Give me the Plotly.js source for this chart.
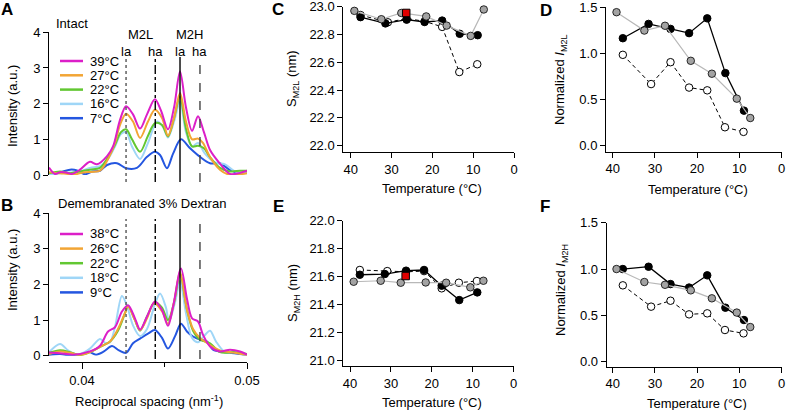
<!DOCTYPE html>
<html><head><meta charset="utf-8">
<script src="https://cdn.plot.ly/plotly-3.0.1.min.js"></script>
<style>html,body{margin:0;padding:0;background:#fff}#chart{width:787px;height:410px}</style>
</head><body><div id="chart"></div>
<script>
// ================= DATA =================
// Panels A/B: legend labels
const intactLabels  = ['39°C','27°C','22°C','16°C','7°C'];
const dextranLabels = ['38°C','26°C','22°C','18°C','9°C'];

// Panel A (Intact) spectra: reciprocal spacing (nm^-1) and intensity (a.u.)
const intact39_x = [0.03800,0.03836,0.03867,0.03903,0.03939,0.03988,0.04048,0.04091,0.04152,0.04188,0.04230,0.04267,0.04309,0.04352,0.04394,0.04442,0.04479,0.04521,0.04558,0.04594,0.04630,0.04667,0.04703,0.04739,0.04776,0.04836,0.04897,0.04958,0.05000];
const intact39_y = [0.21,0.03,0.08,0.07,0.03,0.15,0.37,0.30,0.53,0.80,1.54,1.93,1.70,1.30,1.70,2.12,1.80,1.28,1.90,2.90,1.90,1.24,1.65,1.20,0.70,0.32,0.03,0.06,0.12];
const intact27_x = [0.03800,0.03867,0.03958,0.04018,0.04109,0.04158,0.04200,0.04230,0.04267,0.04309,0.04352,0.04400,0.04442,0.04485,0.04521,0.04558,0.04594,0.04630,0.04667,0.04703,0.04733,0.04776,0.04836,0.04885,0.04958,0.05000];
const intact27_y = [0.08,0.05,0.02,0.08,0.12,0.45,0.90,1.40,1.72,1.50,1.04,1.50,1.83,1.60,1.10,1.60,2.30,1.50,1.00,1.02,0.90,0.50,0.15,0.02,0.02,0.05];
const intact22_x = [0.03800,0.03867,0.03927,0.03988,0.04048,0.04109,0.04158,0.04200,0.04236,0.04267,0.04303,0.04352,0.04400,0.04442,0.04485,0.04521,0.04558,0.04594,0.04630,0.04667,0.04703,0.04739,0.04776,0.04836,0.04897,0.04958,0.05000];
const intact22_y = [0.05,0.10,0.05,0.10,0.15,0.20,0.50,0.85,1.20,1.28,1.00,0.65,1.10,1.45,1.40,1.08,1.60,2.20,1.30,0.80,0.82,0.75,0.50,0.20,0.10,0.12,0.12];
const intact16_x = [0.03800,0.03867,0.03988,0.04048,0.04109,0.04158,0.04200,0.04236,0.04267,0.04303,0.04352,0.04400,0.04455,0.04491,0.04521,0.04558,0.04594,0.04630,0.04667,0.04703,0.04745,0.04806,0.04867,0.04927,0.05000];
const intact16_y = [0.00,0.05,0.10,0.20,0.25,0.45,0.80,1.15,1.20,0.80,0.45,0.90,1.50,1.35,1.05,1.50,2.05,1.20,0.80,0.90,0.60,0.35,0.30,0.10,0.05];
const intact7_x  = [0.03800,0.03867,0.03927,0.03970,0.04018,0.04061,0.04109,0.04152,0.04212,0.04267,0.04333,0.04394,0.04442,0.04473,0.04515,0.04552,0.04600,0.04655,0.04715,0.04776,0.04836,0.04897,0.04958,0.05000];
const intact7_y  = [0.00,0.07,0.15,0.13,0.02,0.10,0.12,0.28,0.33,0.19,0.20,0.51,0.65,0.56,0.19,0.60,1.00,0.75,0.51,0.33,0.33,0.14,0.05,0.07];

// Panel B (Demembranated 3% Dextran) spectra
const dex38_x = [0.03800,0.03867,0.03945,0.04048,0.04109,0.04158,0.04200,0.04242,0.04279,0.04321,0.04352,0.04394,0.04442,0.04485,0.04521,0.04552,0.04600,0.04636,0.04667,0.04703,0.04733,0.04776,0.04836,0.04897,0.04958,0.05000];
const dex38_y = [0.09,0.07,0.03,0.12,0.28,0.68,0.80,1.24,1.42,1.05,0.73,1.10,1.52,1.28,0.84,1.38,2.45,1.60,1.05,0.96,0.59,0.26,0.12,0.17,0.12,0.03];
const dex26_x = [0.03800,0.03867,0.03927,0.03988,0.04048,0.04109,0.04170,0.04218,0.04261,0.04279,0.04321,0.04352,0.04394,0.04436,0.04485,0.04521,0.04558,0.04594,0.04636,0.04673,0.04715,0.04776,0.04836,0.04927,0.05000];
const dex26_y = [0.05,0.12,0.08,0.02,0.10,0.25,0.40,0.75,1.20,1.38,1.00,0.72,1.05,1.48,1.25,0.90,1.50,2.35,1.30,0.75,0.50,0.30,0.15,0.08,0.02];
const dex22_x = [0.03800,0.03867,0.03927,0.03988,0.04048,0.04109,0.04170,0.04218,0.04261,0.04279,0.04321,0.04352,0.04394,0.04442,0.04485,0.04521,0.04558,0.04594,0.04636,0.04673,0.04715,0.04776,0.04836,0.04927,0.05000];
const dex22_y = [0.08,0.15,0.10,0.02,0.10,0.25,0.40,0.70,1.20,1.40,1.00,0.70,1.10,1.50,1.35,1.00,1.50,2.30,1.30,0.70,0.45,0.35,0.10,0.10,0.05];
const dex18_x = [0.03800,0.03867,0.03915,0.03958,0.03988,0.04048,0.04109,0.04145,0.04170,0.04200,0.04242,0.04273,0.04309,0.04352,0.04394,0.04442,0.04473,0.04509,0.04527,0.04564,0.04594,0.04630,0.04667,0.04703,0.04739,0.04776,0.04812,0.04867,0.04927,0.05000];
const dex18_y = [0.10,0.33,0.15,0.05,0.05,0.20,0.47,0.35,0.38,0.80,1.68,1.40,0.85,0.55,0.75,1.45,1.75,1.35,0.95,1.50,2.10,1.20,0.50,0.38,0.55,0.70,0.40,0.10,0.10,0.02];
const dex9_x  = [0.03800,0.03867,0.03927,0.03988,0.04036,0.04085,0.04133,0.04182,0.04224,0.04267,0.04309,0.04352,0.04400,0.04442,0.04485,0.04521,0.04564,0.04600,0.04636,0.04673,0.04715,0.04758,0.04794,0.04867,0.04958,0.05000];
const dex9_y  = [0.02,0.05,0.00,0.02,0.12,0.03,0.12,0.27,0.15,0.08,0.35,0.48,0.62,0.72,0.50,0.20,0.55,0.90,0.68,0.54,0.45,0.40,0.17,0.10,0.05,0.02];

// Reflection positions (nm^-1) marked by vertical lines
const reflX      = [0.04267, 0.04444, 0.04594, 0.04715];
const reflLabels = ['la', 'ha', 'la', 'ha'];
const reflGroups = ['M2L', 'M2H'];

// Panels C-F: temperature (°C)
const tempOpen  = [37.6, 30.9, 26.3, 21.9, 17.6, 13.4, 9.0];
const tempBlack = [37.6, 31.5, 26.3, 21.9, 17.6, 13.3, 8.9];
const tempGray  = [39.1, 32.5, 27.6, 21.5, 16.5, 10.6, 7.4];
const tempRed   = [26.4];

// Panel C: S_M2L (nm)
const sM2L_open  = [22.94, 22.888, 22.915, 22.895, 22.855, 22.53, 22.586];
const sM2L_black = [22.925, 22.88, 22.907, 22.89, 22.90, 22.805, 22.795];
const sM2L_gray  = [22.97, 22.91, 22.955, 22.93, 22.864, 22.79, 22.98];
const sM2L_red   = [22.955];

// Panel D: normalized I_M2L
const iM2L_open  = [0.985, 0.668, 0.905, 0.63, 0.60, 0.20, 0.15];
const iM2L_black = [1.165, 1.32, 1.266, 1.22, 1.38, 0.787, 0.38];
const iM2L_gray  = [1.447, 1.248, 1.30, 0.92, 0.78, 0.51, 0.30];

// Panel E: S_M2H (nm)
const sM2H_open  = [21.648, 21.64, 21.635, 21.64, 21.517, 21.557, 21.569];
const sM2H_black = [21.614, 21.619, 21.643, 21.648, 21.536, 21.433, 21.488];
const sM2H_gray  = [21.564, 21.571, 21.557, 21.559, 21.557, 21.524, 21.571];
const sM2H_red   = [21.605];

// Panel F: normalized I_M2H
const iM2H_open  = [0.824, 0.594, 0.658, 0.511, 0.522, 0.342, 0.306];
const iM2H_black = [1.0, 1.025, 0.838, 0.80, 0.932, 0.583, 0.45];
const iM2H_gray  = [1.0, 0.86, 0.83, 0.77, 0.684, 0.53, 0.374];

// Tick values
const tempTicks = [40, 30, 20, 10, 0];
const intensityTicks = [0, 1, 2, 3, 4];
const spacingTicks = [0.04, 0.05];
const sM2LTicks = [22.0, 22.2, 22.4, 22.6, 22.8, 23.0];
const sM2HTicks = [21.0, 21.2, 21.4, 21.6, 21.8, 22.0];
const normTicks = [0.0, 0.5, 1.0, 1.5];

// ================= STYLE / LAYOUT =================
const W = 787, H = 410;
const FONT = 'Liberation Sans, Arial, Helvetica, sans-serif';
const px = v => v / W;
const py = v => 1 - v / H;
const curveColors = ['#dc1fc8', '#f2a534', '#62c732', '#9fd6f7', '#2456e0'];
const reflDash  = ['dot', 'dashdot', 'solid', 'dash'];
const reflColor = ['#555', '#000', '#000', '#444'];

const intactX = [intact39_x, intact27_x, intact22_x, intact16_x, intact7_x];
const intactY = [intact39_y, intact27_y, intact22_y, intact16_y, intact7_y];
const dexX = [dex38_x, dex26_x, dex22_x, dex18_x, dex9_x];
const dexY = [dex38_y, dex26_y, dex22_y, dex18_y, dex9_y];

const traces = [];
for (let i = intactX.length - 1; i >= 0; i--) {
  traces.push({x: intactX[i], y: intactY[i], xaxis: 'x', yaxis: 'y', type: 'scatter', mode: 'lines',
    name: intactLabels[i], line: {color: curveColors[i], width: 2, shape: 'spline', smoothing: 0.9}, showlegend: false});
}
for (let i = dexX.length - 1; i >= 0; i--) {
  traces.push({x: dexX[i], y: dexY[i], xaxis: 'x2', yaxis: 'y2', type: 'scatter', mode: 'lines',
    name: dextranLabels[i], line: {color: curveColors[i], width: 2, shape: 'spline', smoothing: 0.9}, showlegend: false});
}

function addSeries(xa, ya, open, black, gray, red) {
  const msize = 7.5;
  traces.push({x: tempOpen, y: open, xaxis: xa, yaxis: ya, type: 'scatter', mode: 'lines+markers', cliponaxis: false,
    line: {color: '#000', width: 1, dash: '4px,3px'}, marker: {color: '#fff', size: msize, line: {color: '#000', width: 1}}, showlegend: false});
  traces.push({x: tempBlack, y: black, xaxis: xa, yaxis: ya, type: 'scatter', mode: 'lines+markers', cliponaxis: false,
    line: {color: '#000', width: 1.3}, marker: {color: '#000', size: msize, line: {color: '#000', width: 1}}, showlegend: false});
  traces.push({x: tempGray, y: gray, xaxis: xa, yaxis: ya, type: 'scatter', mode: 'lines+markers', cliponaxis: false,
    line: {color: '#b8b8b8', width: 1.2}, marker: {color: '#a3a3a3', size: msize, line: {color: '#000', width: 0.8}}, showlegend: false});
  if (red) {
    traces.push({x: tempRed, y: red, xaxis: xa, yaxis: ya, type: 'scatter', mode: 'markers', cliponaxis: false,
      marker: {symbol: 'square', color: '#e00000', size: 7.5, line: {color: '#000', width: 1}}, showlegend: false});
  }
}
addSeries('x3', 'y3', sM2L_open, sM2L_black, sM2L_gray, sM2L_red);
addSeries('x4', 'y4', iM2L_open, iM2L_black, iM2L_gray, null);
addSeries('x5', 'y5', sM2H_open, sM2H_black, sM2H_gray, sM2H_red);
addSeries('x6', 'y6', iM2H_open, iM2H_black, iM2H_gray, null);

const axBase = {showgrid: false, zeroline: false, showline: true, linecolor: '#000', linewidth: 1,
  ticks: 'outside', ticklen: 5, tickwidth: 1, tickcolor: '#000', tickfont: {size: 13, color: '#000', family: FONT},
  fixedrange: true, tickmode: 'array', ticklabeloverflow: 'allow'};
const ax = o => Object.assign({}, axBase, o);

function linRange(v0, p0, v1, p1, pa, pb) {
  const k = (v1 - v0) / (p1 - p0);
  return [v0 + (pa - p0) * k, v0 + (pb - p0) * k];
}

const layout = {
  width: W, height: H, margin: {l: 0, r: 0, t: 0, b: 0},
  paper_bgcolor: '#fff', plot_bgcolor: 'rgba(0,0,0,0)',
  font: {family: FONT, size: 13, color: '#000'},
  showlegend: false,
  xaxis: ax({domain: [px(49), px(247)], range: [0.038, 0.05], anchor: 'y', visible: false}),
  yaxis: ax({domain: [py(175), py(32.3)], range: [0, 4], anchor: 'x', tickvals: intensityTicks}),
  xaxis2: ax({domain: [px(49), px(247)], range: [0.038, 0.05], anchor: 'free', position: py(362.3),
    tickvals: spacingTicks, ticktext: spacingTicks.map(v => v.toFixed(2)), ticklen: 6,
    minor: {dtick: 0.005, tick0: 0.04, ticks: 'outside', ticklen: 4, tickcolor: '#000', tickwidth: 1}}),
  yaxis2: ax({domain: [py(355.7), py(213.3)], range: [0, 4], anchor: 'x2', tickvals: intensityTicks}),
  xaxis3: ax({domain: [px(343.3), px(514)], range: linRange(40, 350.7, 0, 514, 343.3, 514), anchor: 'y3', tickvals: tempTicks}),
  yaxis3: ax({domain: [py(152.3), py(6.7)], range: linRange(22.0, 145.7, 23.0, 6.7, 152.3, 6.7), anchor: 'x3',
    tickvals: sM2LTicks, ticktext: sM2LTicks.map(v => v.toFixed(1))}),
  xaxis4: ax({domain: [px(606), px(781.5)], range: linRange(40, 612.7, 0, 781.5, 606, 781.5), anchor: 'y4', tickvals: tempTicks}),
  yaxis4: ax({domain: [py(151.7), py(7.3)], range: linRange(0, 145.7, 1.5, 7.3, 151.7, 7.3), anchor: 'x4',
    tickvals: normTicks, ticktext: normTicks.map(v => v.toFixed(1))}),
  xaxis5: ax({domain: [px(343.3), px(514)], range: linRange(40, 350, 0, 513.7, 343.3, 514), anchor: 'y5', tickvals: tempTicks}),
  yaxis5: ax({domain: [py(366), py(220.7)], range: linRange(21.0, 360.7, 22.0, 220.7, 366, 220.7), anchor: 'x5',
    tickvals: sM2HTicks, ticktext: sM2HTicks.map(v => v.toFixed(1))}),
  xaxis6: ax({domain: [px(606.7), px(781.5)], range: linRange(40, 612.7, 0, 781.5, 606.7, 781.5), anchor: 'y6', tickvals: tempTicks}),
  yaxis6: ax({domain: [py(366.7), py(222.7)], range: linRange(0, 361.7, 1.5, 222.7, 366.7, 222.7), anchor: 'x6',
    tickvals: normTicks, ticktext: normTicks.map(v => v.toFixed(1))}),
  shapes: [],
  annotations: []
};

reflX.forEach((xv, i) => {
  layout.shapes.push({type: 'line', xref: 'x', yref: 'paper', x0: xv, x1: xv, y0: py(182), y1: py(57), layer: 'above',
    line: {color: reflColor[i], width: 1.4, dash: reflDash[i]}});
  layout.shapes.push({type: 'line', xref: 'x2', yref: 'paper', x0: xv, x1: xv, y0: py(359), y1: py(219), layer: 'above',
    line: {color: reflColor[i], width: 1.4, dash: reflDash[i]}});
  layout.annotations.push({xref: 'x', yref: 'paper', x: xv, y: py(51), text: reflLabels[i], showarrow: false,
    xanchor: 'center', yanchor: 'middle', font: {size: 13}});
});
reflGroups.forEach((g, k) => {
  layout.annotations.push({xref: 'x', yref: 'paper', x: (reflX[2 * k] + reflX[2 * k + 1]) / 2, y: py(34.5), text: g,
    showarrow: false, xanchor: 'center', yanchor: 'middle', font: {size: 13}});
});

function addLegend(labels, x0, yTop, step) {
  labels.forEach((lab, i) => {
    const yy = py(yTop + i * step);
    layout.shapes.push({type: 'line', xref: 'paper', yref: 'paper', x0: px(x0), x1: px(x0 + 23), y0: yy, y1: yy,
      line: {color: curveColors[i], width: 2.5}});
    layout.annotations.push({xref: 'paper', yref: 'paper', x: px(x0 + 28), y: yy, text: lab, showarrow: false,
      xanchor: 'left', yanchor: 'middle', font: {size: 13}});
  });
}
addLegend(intactLabels, 60, 61, 14.3);
addLegend(dextranLabels, 60, 234, 14.6);

function note(text, x, y, opts) {
  layout.annotations.push(Object.assign({xref: 'paper', yref: 'paper', x: px(x), y: py(y), text: text, showarrow: false,
    xanchor: 'center', yanchor: 'middle', font: {size: 13}}, opts || {}));
}
const bold = {font: {size: 17, weight: 'bold'}};
note('A', 7, 9, bold); note('B', 7, 205, bold);
note('C', 278, 9, bold); note('D', 546, 10, bold);
note('E', 278, 206, bold); note('F', 545, 206, bold);
note('Intact', 72, 23);
note('Demembranated 3% Dextran', 142, 203);
note('Intensity (a.u.)', 12, 106, {textangle: -90});
note('Intensity (a.u.)', 12, 270, {textangle: -90});
note('Reciprocal spacing (nm<sup>-1</sup>)', 149, 401);
note('S<sub>M2L</sub> (nm)', 293, 79, {textangle: -90});
note('S<sub>M2H</sub> (nm)', 293, 293, {textangle: -90});
note('Normalized <i>I</i><sub>M2L</sub>', 561, 80, {textangle: -90});
note('Normalized <i>I</i><sub>M2H</sub>', 561, 290, {textangle: -90});
note('Temperature (°C)', 432, 188.5);
note('Temperature (°C)', 698, 189.5);
note('Temperature (°C)', 432, 402.5);
note('Temperature (°C)', 697, 403);

Plotly.newPlot('chart', traces, layout, {staticPlot: true, displayModeBar: false});
</script>
</body></html>
